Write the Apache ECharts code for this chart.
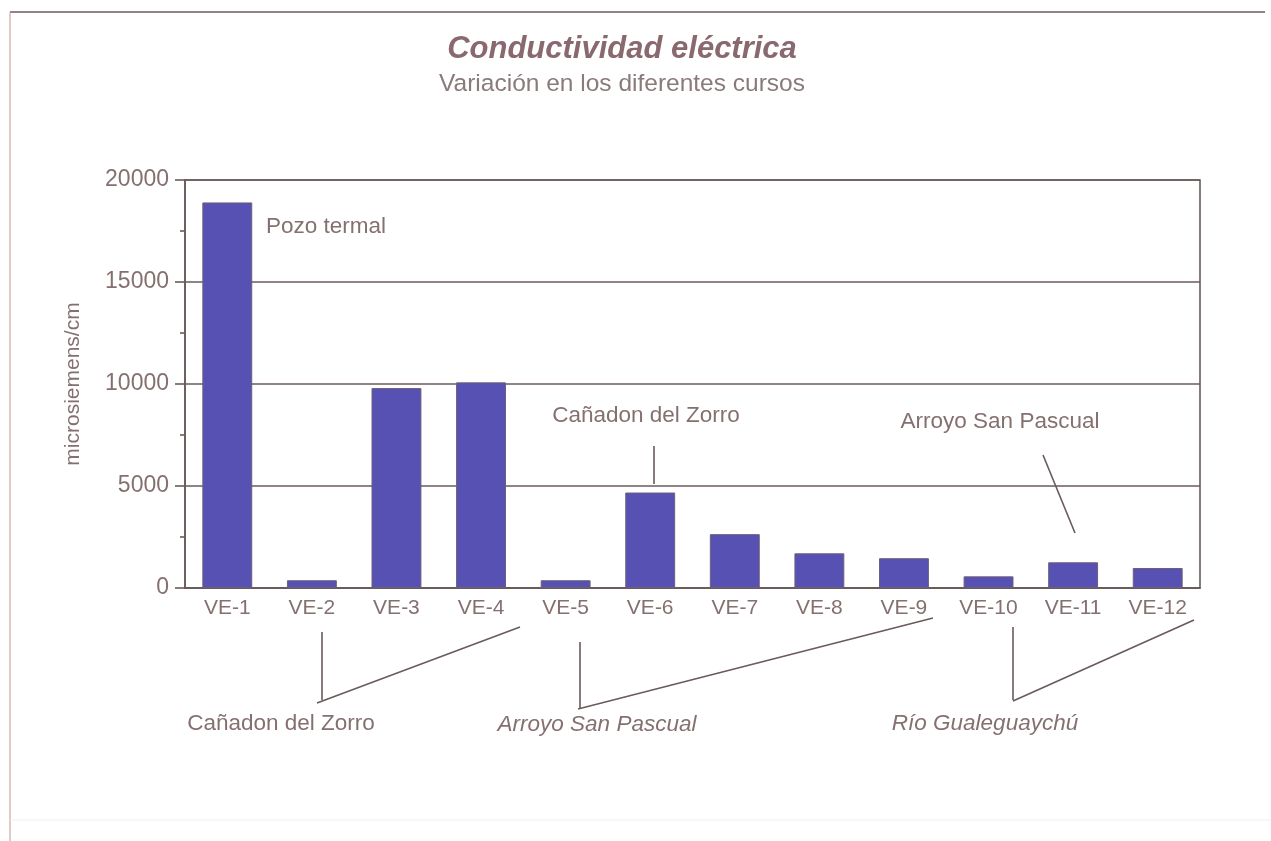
<!DOCTYPE html>
<html>
<head>
<meta charset="utf-8">
<script src="https://cdn.jsdelivr.net/npm/echarts@6/dist/echarts.min.js"></script>
<style>
  html, body { margin: 0; padding: 0; background: #fff; }
  #chart { width: 1271px; height: 841px; }
</style>
</head>
<body>
<div id="chart"></div>
<script>
const categories = ['VE-1', 'VE-2', 'VE-3', 'VE-4', 'VE-5', 'VE-6', 'VE-7', 'VE-8', 'VE-9', 'VE-10', 'VE-11', 'VE-12']
const conductivity = [18900, 380, 9800, 10080, 380, 4680, 2640, 1700, 1460, 570, 1260, 980]
const yTicks = [0, 5000, 10000, 15000, 20000]

const textColor = '#857070'
const lineColor = '#6a5a5a'
const font = 'Arial, "Liberation Sans", sans-serif'

const chart = echarts.init(document.getElementById('chart'))

function seg(x1, y1, x2, y2) {
  return { type: 'line', shape: { x1, y1, x2, y2 }, style: { stroke: lineColor, lineWidth: 1.6 } }
}
function label(text, x, y, italic, align) {
  return {
    type: 'text', x, y,
    style: {
      text, fill: textColor, font: (italic ? 'italic ' : '') + '22.5px ' + font,
      textAlign: align || 'center', textVerticalAlign: 'middle'
    }
  }
}

const option = {
  backgroundColor: '#fff',
  animation: false,
  title: {
    text: 'Conductividad eléctrica',
    subtext: 'Variación en los diferentes cursos',
    left: 617, textAlign: 'center', top: 29, itemGap: 7,
    textStyle: { fontFamily: font, fontSize: 31, fontWeight: 'bold', fontStyle: 'italic', color: '#8a6870' },
    subtextStyle: { fontFamily: font, fontSize: 24.5, color: '#8a7a7a' }
  },
  grid: {
    left: 185, right: 71, top: 180, bottom: 253,
    show: true, borderColor: lineColor, borderWidth: 1.6
  },
  xAxis: {
    type: 'category',
    data: categories,
    axisLine: { lineStyle: { color: lineColor, width: 1.6 } },
    axisTick: { length: 9, lineStyle: { color: lineColor, width: 1.6 } },
    axisLabel: { color: textColor, fontSize: 21, fontFamily: font, margin: 10 }
  },
  yAxis: {
    type: 'value',
    min: 0, max: 20000, interval: 5000,
    name: 'microsiemens/cm',
    nameLocation: 'middle', nameGap: 101, nameRotate: 90,
    nameTextStyle: { color: textColor, fontSize: 21, fontFamily: font },
    axisLine: { show: true, lineStyle: { color: lineColor, width: 1.6 } },
    axisTick: { show: true, length: 10, lineStyle: { color: lineColor, width: 1.6 } },
    minorTick: { show: true, splitNumber: 2, length: 5, lineStyle: { color: lineColor, width: 1.6 } },
    axisLabel: {
      color: textColor, fontSize: 23, fontFamily: font, margin: 16,
      formatter: v => yTicks.includes(v) ? String(v) : ''
    },
    splitLine: { lineStyle: { color: lineColor, width: 1.6 } }
  },
  series: [{
    type: 'bar',
    data: conductivity,
    barWidth: '59%',
    itemStyle: { color: '#5751b4', borderColor: '#6c5f78', borderWidth: 1 }
  }],
  graphic: [
    // outer frame
    seg(10, 12, 1265, 12),
    { type: 'line', shape: { x1: 10, y1: 12, x2: 10, y2: 841 }, style: { stroke: '#c9a89a', lineWidth: 1.2 } },
    { type: 'line', shape: { x1: 10, y1: 820, x2: 1271, y2: 820 }, style: { stroke: '#eeeeee', lineWidth: 1 } },
    // in-plot notes
    label('Pozo termal', 266, 227, false, 'left'),
    label('Cañadon del Zorro', 646, 416),
    seg(654, 446, 654, 484),
    label('Arroyo San Pascual', 1000, 422),
    seg(1043, 455, 1075, 533),
    // groups under the axis
    seg(322, 632, 322, 700),
    seg(317, 703, 520, 627),
    label('Cañadon del Zorro', 281, 724),
    seg(580, 642, 580, 708),
    seg(578, 709, 933, 618),
    label('Arroyo San Pascual', 597, 725, true),
    seg(1013, 627, 1013, 700),
    seg(1013, 701, 1194, 620),
    label('Río Gualeguaychú', 985, 724, true)
  ]
}

chart.setOption(option)
</script>
</body>
</html>
